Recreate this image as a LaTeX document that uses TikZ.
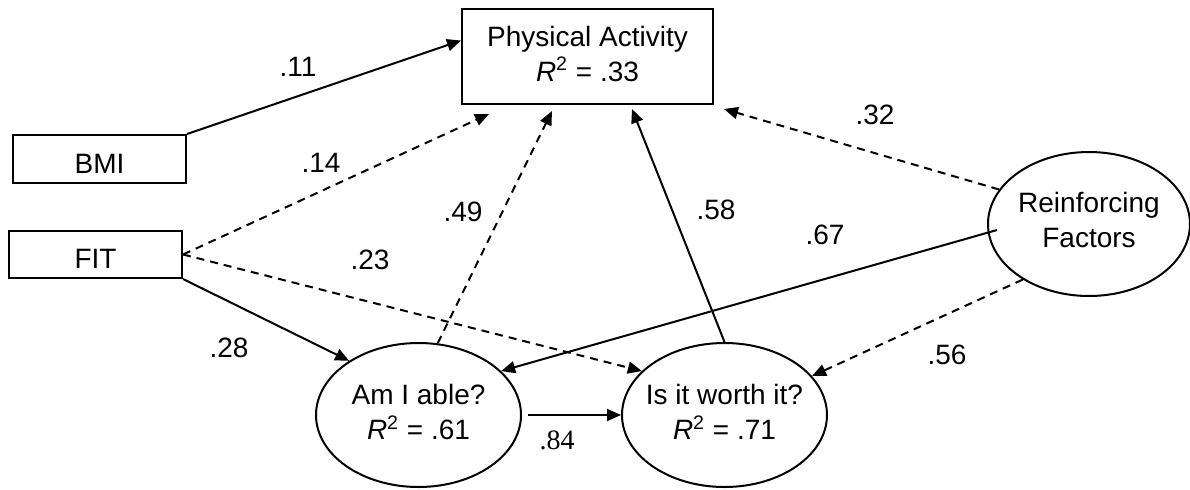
\documentclass[tikz,border=0pt]{standalone}
\usepackage{fontspec}
\setmainfont{Liberation Sans}
\newfontfamily\coefserif{Liberation Serif}
\usetikzlibrary{shapes.geometric,arrows.meta,calc}

\begin{document}
\begin{tikzpicture}[
  x=0.5pt, y=-0.5pt, >={Triangle[length=7pt,width=6pt]},
  every node/.style={font=\fontsize{14}{17.5}\selectfont},
  box/.style={draw, line width=1pt, align=center, inner sep=0pt},
  latent/.style={draw, ellipse, line width=1pt, align=center, inner xsep=-6pt, inner ysep=0pt, text depth=3pt, minimum width=102.5pt, minimum height=72pt},
  effect/.style={line width=1pt},
  noeffect/.style={line width=1pt, dash pattern=on 4pt off 3pt},
]
\useasboundingbox (0,0) rectangle (1190,489);
% observed variables
\node[box, text depth=3pt, minimum width=125.5pt, minimum height=47.5pt] (pa) at (587.5,56.5) {Physical Activity\\\textit{R}\textsuperscript{2} = .33};
\node[box, text height=14pt, minimum width=86.5pt, minimum height=24pt] (bmi) at (99.5,159) {BMI};
\node[box, text height=14pt, minimum width=86.5pt, minimum height=23.5pt] (fit) at (95.5,254.5) {FIT};
% latent factors
\node[latent] (able) at (418.5,415) {Am I able?\\\textit{R}\textsuperscript{2} = .61};
\node[latent] (worth) at (724.5,415) {Is it worth it?\\\textit{R}\textsuperscript{2} = .71};
\node[latent, minimum width=101pt, text depth=4pt] (reinf) at (1089,224) {Reinforcing\\Factors};
% paths
\draw[effect,->] (bmi.north east) -- ($(pa.west)+(0,-16)$);
\draw[noeffect,->] (fit.east) -- ($(pa.south west)+(28,9)$);
\draw[noeffect,->] (fit.east) -- (worth.152);
\draw[effect,->] (fit.south east) -- (able.142);
\draw[noeffect,->] (able.75) -- ($(pa.south west)+(91,6)$);
\draw[effect,->] (worth.north) -- ($(pa.south)+(44.5,4)$);
\draw[noeffect,->] (reinf.159) -- ($(pa.south east)+(10,4)$);
\draw[effect,->] ($(reinf.west)+(10,6)$) -- (able.28);
\draw[noeffect,->] (reinf.220) -- (worth.24);
\draw[effect,->,shorten <=3pt] (able.east) -- (worth.west);
% coefficients
\node (c11) at (298,67) {.11};
\node (c14) at (321,163) {.14};
\node (c49) at (463,212) {.49};
\node (c23) at (370,260) {.23};
\node (c32) at (875,115) {.32};
\node (c58) at (716,210) {.58};
\node (c67) at (825,235) {.67};
\node (c28) at (229,348) {.28};
\node (c56) at (947,355) {.56};
\node[font=\coefserif\fontsize{14}{17.5}\selectfont] (c84) at (557,440) {.84};
\end{tikzpicture}
\end{document}
